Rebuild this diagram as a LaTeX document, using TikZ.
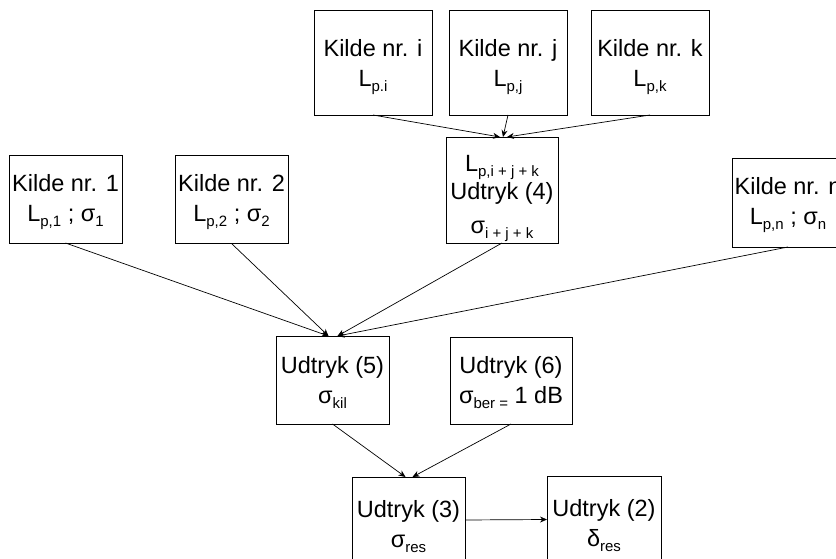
\documentclass[tikz,border=0pt]{standalone}
\usepackage{fontspec}
\setmainfont{Liberation Sans}
\usetikzlibrary{arrows.meta}
\newcommand{\sbs}[1]{\raisebox{-5pt}[0pt][0pt]{\fontsize{15}{15}\selectfont #1}}
\begin{document}
\begin{tikzpicture}[x=1pt,y=-1pt,
  box/.style={draw, line width=0.8pt, inner sep=0pt, outer sep=0pt, align=center,
    font=\fontsize{23.5}{30}\selectfont},
  big/.style={minimum width=118, minimum height=105},
  small/.style={minimum width=113, minimum height=88},
  arr/.style={-{Stealth[length=7pt,width=6pt]}, line width=0.7pt}]
\useasboundingbox (0,0) rectangle (836,559);
% top row
\node[box, big] (ki) at (373,62.5) {Kilde nr. i\\L\sbs{p.i}};
\node[box, big] (kj) at (508,62.5) {Kilde nr. j\\L\sbs{p,j}};
\node[box, big] (kk) at (650,62.5) {Kilde nr. k\\L\sbs{p,k}};
\node[box, minimum width=112, minimum height=106] (n4) at (502,190)
  {\rule{0pt}{26pt}L\sbs{p,i + j + k}\\[-2pt]Udtryk (4)\\[4pt]σ\sbs{i + j + k}};
% second row
\node[box, small] (k1) at (65.5,199) {Kilde nr. 1\\L\sbs{p,1} ; σ\sbs{1}};
\node[box, small] (k2) at (231.5,199.5) {Kilde nr. 2\\L\sbs{p,2} ; σ\sbs{2}};
\node[box, minimum width=112, minimum height=89] (kn) at (788,202.5) {Kilde nr. n\\L\sbs{p,n} ; σ\sbs{n}};
% third row
\node[box, small] (n5) at (332.5,380) {Udtryk (5)\\σ\sbs{kil}};
\node[box, minimum width=122, minimum height=87] (n6) at (511,380.5) {Udtryk (6)\\σ\sbs{ber =} 1 dB};
% bottom row
\node[box, minimum width=113, minimum height=94] (n3) at (408.5,524) {Udtryk (3)\\σ\sbs{res}};
\node[box, minimum width=114, minimum height=95] (n2) at (604,523.5) {Udtryk (2)\\δ\sbs{res}};
% connectors
\draw[arr] (ki.south) -- ([xshift=-2]n4.north);
\draw[arr] (kj.south) -- ([xshift=1]n4.north);
\draw[arr] (kk.south) -- ([xshift=5]n4.north);
\draw[arr] (k1.south) -- ([xshift=-4]n5.north);
\draw[arr] (k2.south) -- ([xshift=-4]n5.north);
\draw[arr] (n4.south) -- ([xshift=5]n5.north);
\draw[arr] (kn.south) -- ([xshift=5]n5.north);
\draw[arr] (n5.south) -- ([xshift=-3]n3.north);
\draw[arr] (n6.south) -- ([xshift=4]n3.north);
\draw[arr] ([yshift=4]n3.east) -- ([yshift=4]n2.west);
\end{tikzpicture}
\end{document}
